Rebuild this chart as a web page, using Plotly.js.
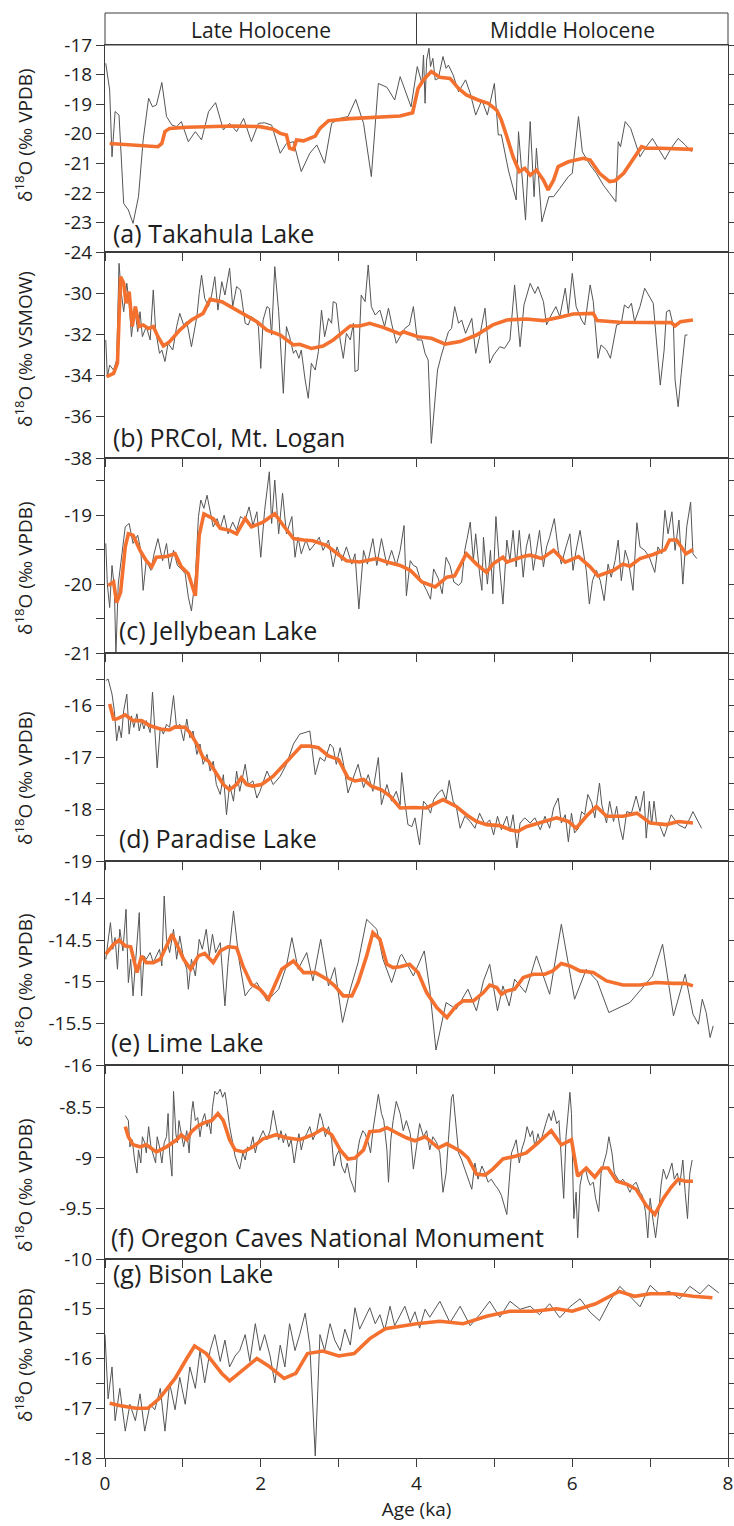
<!DOCTYPE html>
<html><head><meta charset="utf-8">
<script src="https://cdn.plot.ly/plotly-3.0.1.min.js"></script>
<style>html,body{margin:0;padding:0;background:#fff}</style>
</head><body>
<div id="chart" style="width:734px;height:1526px"></div>
<script>
// ---------------- DATA (age in ka, d18O in permil) ----------------
const panelNames = ["(a) Takahula Lake","(b) PRCol, Mt. Logan","(c) Jellybean Lake","(d) Paradise Lake","(e) Lime Lake","(f) Oregon Caves National Monument","(g) Bison Lake"];
const yTitles = ["δ<sup>18</sup>O (‰ VPDB)","δ<sup>18</sup>O (‰ VSMOW)","δ<sup>18</sup>O (‰ VPDB)","δ<sup>18</sup>O (‰ VPDB)","δ<sup>18</sup>O (‰ VPDB)","δ<sup>18</sup>O (‰ VPDB)","δ<sup>18</sup>O (‰ VPDB)"];
const xTitle = "Age (ka)";
const periodLabels = ["Late Holocene","Middle Holocene"];
const periodBounds = [0,4,8];
const xTickVals = [0,1,2,3,4,5,6,7,8];
const xTickText = ["0","","2","","4","","6","","8"];

// (a) Takahula Lake
const aAge = [0.01,0.06,0.09,0.13,0.18,0.24,0.30,0.36,0.43,0.49,0.56,0.61,0.66,0.73,0.79,0.86,0.92,0.98,1.07,1.16,1.24,1.33,1.42,1.52,1.60,1.69,1.78,1.88,1.97,2.05,2.14,2.25,2.33,2.42,2.52,2.63,2.72,2.82,2.91,3.02,3.12,3.22,3.32,3.42,3.51,3.62,3.72,3.79,
3.93,4.01,4.07,4.09,4.11,4.13,4.16,4.18,4.21,4.24,4.28,4.34,4.38,4.41,4.47,4.54,4.63,4.69,4.76,4.84,4.91,5.00,5.05,5.09,5.18,5.28,5.31,5.40,5.46,5.51,5.54,5.61,5.70,5.76,5.84,5.95,6.00,6.08,6.13,6.23,6.31,6.40,6.48,6.56,6.59,6.62,6.68,6.75,6.87,6.95,7.03,7.10,7.19,7.27,7.36,7.45,7.53];
const aVal = [-17.62,-18.52,-20.78,-19.25,-19.37,-22.36,-22.58,-23.03,-22.13,-20.21,-18.80,-19.09,-19.03,-18.27,-19.42,-19.71,-19.76,-19.59,-20.27,-19.93,-20.21,-19.25,-18.95,-19.87,-19.65,-19.93,-19.48,-20.27,-19.65,-19.63,-19.71,-20.66,-20.33,-20.27,-21.28,-20.66,-20.38,-21.00,-19.65,-19.48,-19.42,-18.84,-19.65,-21.45,-18.30,-18.43,-18.86,-18.07,
-19.09,-17.73,-18.30,-17.34,-18.97,-17.51,-17.11,-17.73,-17.45,-18.18,-18.13,-17.39,-17.79,-17.68,-18.01,-18.58,-18.18,-18.63,-19.37,-18.86,-19.37,-18.30,-20.04,-20.04,-21.23,-22.24,-19.93,-22.92,-19.59,-22.13,-20.49,-22.98,-22.13,-22.13,-21.85,-21.45,-21.34,-19.42,-20.61,-21.06,-21.34,-21.74,-22.02,-22.30,-20.27,-20.44,-19.59,-19.82,-20.78,-20.44,-20.16,-20.49,-20.87,-20.49,-20.16,-20.38,-20.61];
const aSmAge = [0.06,0.28,0.49,0.68,0.73,0.77,0.83,1.05,1.65,1.99,2.16,2.25,2.33,2.37,2.42,2.46,2.55,2.70,2.76,2.87,3.15,3.79,3.95,4.02,4.09,4.19,4.30,4.43,4.54,4.64,4.79,4.92,5.03,5.09,5.16,5.24,5.32,5.39,5.46,5.54,5.63,5.69,5.76,5.82,5.95,6.14,6.23,6.35,6.48,6.55,6.66,6.78,6.89,6.95,7.13,7.55];
const aSm = [-20.33,-20.36,-20.40,-20.44,-20.33,-19.93,-19.82,-19.78,-19.74,-19.76,-19.85,-19.99,-20.04,-20.49,-20.53,-20.21,-20.24,-20.08,-19.82,-19.56,-19.49,-19.40,-19.29,-18.47,-18.18,-17.90,-18.09,-18.13,-18.47,-18.69,-18.86,-18.97,-19.20,-19.54,-20.10,-20.78,-21.28,-21.17,-21.40,-21.23,-21.57,-21.90,-21.57,-21.11,-20.95,-20.83,-20.89,-21.34,-21.62,-21.59,-21.34,-20.89,-20.44,-20.49,-20.49,-20.53];

// (b) PRCol, Mt. Logan
const bAge = [0.01,0.03,0.06,0.11,0.15,0.18,0.21,0.24,0.28,0.31,0.34,0.38,0.42,0.45,0.48,0.53,0.58,0.62,0.65,0.70,0.73,0.77,0.81,0.87,0.92,0.96,1.01,1.05,1.11,1.18,1.21,1.24,1.28,1.33,1.37,1.41,1.45,1.50,1.54,1.60,1.64,1.69,1.74,1.80,1.84,1.88,1.93,1.97,2.00,2.03,2.08,2.11,2.14,2.18,2.23,2.26,2.29,2.33,2.37,2.42,2.45,2.49,2.52,2.57,2.61,2.65,2.70,2.74,2.78,2.82,2.87,2.91,2.93,2.97,3.02,3.06,3.10,3.15,3.19,3.21,3.25,3.29,3.34,3.38,3.42,3.47,3.53,3.59,3.64,3.68,3.74,3.79,
3.85,3.91,3.96,4.01,4.07,4.11,4.15,4.19,4.27,4.32,4.41,4.45,4.49,4.54,4.58,4.63,4.71,4.76,4.81,4.88,4.94,4.99,5.07,5.13,5.20,5.26,5.33,5.38,5.46,5.52,5.56,5.63,5.67,5.73,5.79,5.84,5.91,5.95,6.00,6.05,6.12,6.16,6.23,6.27,6.33,6.37,6.44,6.49,6.57,6.63,6.67,6.72,6.76,6.80,6.87,6.93,7.00,7.04,7.08,7.13,7.18,7.21,7.25,7.30,7.32,7.36,7.40,7.45,7.48];
const bVal = [-32.27,-34.05,-33.49,-33.73,-33.24,-28.55,-30.01,-30.90,-29.52,-30.49,-32.11,-30.65,-31.87,-30.90,-32.11,-31.62,-32.27,-29.84,-31.79,-32.92,-32.76,-33.32,-32.43,-32.76,-31.62,-30.98,-31.54,-31.38,-32.60,-31.14,-30.01,-29.12,-30.25,-30.65,-30.09,-29.20,-30.82,-29.44,-30.09,-28.79,-30.65,-29.68,-29.84,-31.46,-31.54,-31.14,-31.30,-31.62,-33.65,-31.30,-30.65,-30.73,-32.03,-28.71,-30.90,-32.76,-34.86,-31.62,-32.11,-32.92,-32.76,-33.16,-32.76,-34.21,-35.10,-33.40,-33.73,-32.84,-30.82,-32.11,-31.22,-31.46,-30.41,-30.49,-32.27,-33.16,-31.95,-32.27,-31.46,-33.81,-33.73,-30.09,-30.41,-28.63,-30.65,-31.06,-30.82,-31.62,-30.73,-31.46,-32.43,-32.11,
-31.71,-31.54,-30.65,-32.27,-32.27,-32.92,-33.24,-37.29,-33.73,-33.00,-31.87,-31.71,-30.65,-31.46,-31.30,-31.95,-31.22,-32.92,-32.11,-30.73,-33.40,-33.00,-32.60,-32.68,-32.27,-29.60,-32.60,-30.57,-29.52,-30.01,-29.68,-30.41,-31.54,-31.06,-30.65,-31.14,-29.76,-30.98,-29.04,-30.65,-31.30,-31.54,-29.60,-30.41,-33.16,-32.51,-32.76,-33.16,-31.54,-31.46,-30.57,-30.73,-30.49,-31.38,-30.65,-29.76,-30.25,-30.49,-32.27,-34.46,-32.76,-30.90,-30.82,-31.62,-34.21,-35.51,-33.89,-32.03,-32.03];
const bSmAge = [0.02,0.11,0.16,0.20,0.24,0.27,0.31,0.35,0.39,0.44,0.49,0.56,0.62,0.68,0.75,0.83,0.96,1.11,1.26,1.35,1.50,1.65,1.82,1.95,2.08,2.25,2.42,2.50,2.65,2.80,2.93,3.15,3.27,3.40,3.57,3.79,3.83,4.02,4.19,4.37,4.56,4.77,4.98,5.16,5.41,5.63,5.84,6.01,6.27,6.32,6.61,6.91,7.27,7.32,7.39,7.55];
const bSm = [-34.05,-33.89,-33.40,-29.20,-29.52,-30.49,-29.93,-31.62,-30.65,-31.62,-31.54,-31.71,-31.62,-32.11,-32.56,-32.35,-31.79,-31.30,-30.98,-30.30,-30.41,-30.73,-31.06,-31.38,-31.79,-32.03,-32.51,-32.48,-32.68,-32.56,-32.27,-31.59,-31.59,-31.46,-31.66,-31.98,-31.87,-32.11,-32.19,-32.47,-32.35,-32.03,-31.54,-31.30,-31.25,-31.33,-31.17,-31.01,-30.98,-31.33,-31.41,-31.43,-31.43,-31.59,-31.38,-31.30];

// (c) Jellybean Lake
const cAge = [0.01,0.03,0.06,0.09,0.12,0.14,0.17,0.21,0.26,0.31,0.36,0.42,0.46,0.49,0.53,0.59,0.63,0.68,0.74,0.79,0.83,0.88,0.93,0.98,1.03,1.07,1.11,1.16,1.20,1.23,1.27,1.31,1.35,1.39,1.44,1.48,1.53,1.58,1.64,1.69,1.74,1.80,1.85,1.90,1.95,2.00,2.05,2.11,2.14,2.18,2.23,2.28,2.33,2.40,2.44,2.48,2.52,2.58,2.63,2.70,2.75,2.80,2.87,2.93,2.98,3.04,3.10,3.17,3.21,3.26,3.32,3.37,3.44,3.49,3.55,3.62,3.68,3.74,
3.79,3.84,3.87,3.92,3.96,4.00,4.04,4.09,4.13,4.18,4.22,4.28,4.33,4.38,4.43,4.48,4.54,4.58,4.62,4.65,4.69,4.73,4.76,4.81,4.84,4.86,4.91,4.95,4.98,5.02,5.06,5.11,5.16,5.20,5.24,5.28,5.32,5.37,5.41,5.45,5.50,5.54,5.58,5.63,5.67,5.71,5.77,5.82,5.86,5.92,5.97,6.01,6.05,6.10,6.14,6.18,6.22,6.26,6.31,6.36,6.41,6.46,6.50,6.55,6.59,6.63,6.68,6.72,6.78,6.83,6.87,6.93,6.99,7.06,7.10,7.15,7.19,7.23,7.28,7.32,7.37,7.42,7.47,7.52,7.55,7.60];
const cVal = [-19.41,-20.00,-20.34,-19.73,-20.05,-21.02,-20.00,-19.61,-19.17,-19.12,-19.41,-19.29,-19.51,-20.09,-19.66,-19.80,-19.56,-19.34,-19.66,-19.41,-19.78,-19.51,-19.73,-19.78,-19.85,-20.19,-20.39,-19.90,-19.02,-18.78,-18.90,-18.71,-18.93,-19.17,-19.05,-19.19,-19.00,-19.27,-19.10,-19.22,-19.02,-19.07,-18.88,-19.15,-18.95,-19.61,-18.93,-18.37,-19.12,-18.49,-19.27,-18.68,-19.27,-19.02,-19.61,-19.32,-19.56,-19.36,-19.51,-19.41,-19.32,-19.51,-19.36,-19.75,-19.46,-19.66,-19.46,-19.71,-19.56,-20.36,-19.51,-19.71,-19.34,-19.73,-19.34,-19.73,-19.51,-19.73,
-19.51,-19.15,-20.17,-19.66,-19.73,-19.75,-19.90,-20.00,-20.09,-20.22,-19.78,-19.92,-20.14,-19.61,-19.73,-19.97,-20.02,-19.97,-19.51,-19.34,-19.10,-19.66,-19.27,-19.85,-20.09,-19.32,-20.00,-19.51,-20.14,-19.02,-19.66,-20.29,-19.36,-19.66,-19.22,-19.75,-19.22,-19.90,-19.46,-19.27,-19.80,-19.51,-19.22,-19.75,-19.46,-19.32,-19.05,-19.51,-19.71,-19.46,-19.27,-19.80,-19.51,-19.22,-19.51,-19.80,-20.29,-19.95,-19.80,-19.95,-20.24,-19.71,-19.90,-19.66,-19.36,-19.95,-19.51,-19.66,-20.09,-19.11,-19.46,-19.51,-19.61,-19.83,-19.46,-19.56,-18.93,-19.27,-18.95,-19.51,-19.07,-20.00,-19.17,-18.81,-19.56,-19.63];
const cSmAge = [0.04,0.11,0.15,0.20,0.26,0.30,0.36,0.45,0.53,0.60,0.66,0.79,0.90,0.98,1.07,1.16,1.21,1.27,1.39,1.48,1.60,1.69,1.80,1.88,2.03,2.18,2.29,2.42,2.55,2.67,2.85,2.97,3.10,3.27,3.49,3.62,3.79,3.92,4.07,4.24,4.39,4.49,4.64,4.77,4.90,4.98,5.11,5.16,5.37,5.46,5.61,5.76,5.91,6.08,6.23,6.33,6.53,6.65,6.74,6.87,7.04,7.19,7.25,7.34,7.46,7.55];
const cSm = [-20.02,-19.97,-20.27,-20.12,-19.46,-19.27,-19.29,-19.51,-19.66,-19.75,-19.61,-19.60,-19.56,-19.75,-19.85,-20.17,-19.29,-18.98,-19.05,-19.19,-19.22,-19.27,-19.05,-19.17,-19.10,-18.98,-19.15,-19.34,-19.36,-19.37,-19.44,-19.54,-19.66,-19.68,-19.63,-19.68,-19.73,-19.80,-19.97,-20.04,-19.90,-19.88,-19.56,-19.71,-19.83,-19.71,-19.61,-19.68,-19.60,-19.58,-19.63,-19.51,-19.68,-19.60,-19.75,-19.88,-19.80,-19.71,-19.74,-19.63,-19.57,-19.50,-19.36,-19.36,-19.56,-19.50];

// (d) Paradise Lake
const dAge = [0.01,0.04,0.09,0.12,0.15,0.18,0.21,0.24,0.28,0.31,0.34,0.37,0.41,0.44,0.47,0.50,0.53,0.58,0.61,0.64,0.67,0.71,0.75,0.79,0.83,0.88,0.92,0.96,1.01,1.05,1.09,1.13,1.18,1.22,1.26,1.31,1.35,1.39,1.43,1.48,1.52,1.56,1.60,1.65,1.69,1.73,1.80,1.84,1.90,1.95,1.99,2.08,2.16,2.25,2.33,2.42,2.50,2.57,2.63,2.70,2.76,2.82,2.89,2.93,2.97,3.02,3.06,3.12,3.19,3.25,3.32,3.38,3.44,3.51,3.55,3.62,3.68,3.74,3.79,
3.81,3.85,3.89,3.94,3.98,4.04,4.09,4.13,4.18,4.22,4.28,4.33,4.38,4.42,4.47,4.51,4.56,4.62,4.69,4.75,4.81,4.88,4.94,4.99,5.04,5.09,5.16,5.20,5.24,5.29,5.33,5.39,5.46,5.52,5.59,5.65,5.71,5.76,5.82,5.86,5.91,5.95,5.99,6.03,6.08,6.12,6.16,6.20,6.25,6.29,6.35,6.38,6.44,6.48,6.53,6.57,6.61,6.65,6.70,6.76,6.82,6.87,6.92,6.95,6.99,7.02,7.05,7.08,7.13,7.18,7.27,7.36,7.45,7.55,7.66];
const dVal = [-15.53,-15.50,-15.79,-16.11,-16.69,-16.40,-16.63,-16.11,-15.79,-16.56,-16.21,-16.43,-16.17,-16.50,-16.30,-16.46,-16.30,-16.53,-15.75,-16.43,-17.21,-16.43,-16.56,-16.37,-16.43,-15.82,-16.46,-16.37,-16.69,-16.27,-16.63,-16.50,-16.95,-16.75,-17.14,-16.95,-17.27,-17.08,-17.53,-17.72,-17.34,-18.11,-17.53,-17.85,-17.27,-17.66,-17.14,-17.53,-17.46,-17.79,-17.66,-17.27,-17.53,-17.37,-17.14,-16.75,-16.56,-16.53,-16.50,-17.34,-17.01,-17.08,-16.75,-16.82,-17.14,-16.82,-17.11,-17.69,-17.40,-17.14,-17.59,-17.34,-17.66,-17.01,-17.92,-17.53,-17.85,-17.66,-17.92,
-17.30,-17.85,-18.30,-18.34,-18.17,-18.69,-17.85,-17.92,-18.08,-17.82,-17.69,-17.63,-17.82,-17.45,-17.85,-17.95,-18.37,-18.14,-18.24,-18.37,-18.08,-18.30,-18.21,-18.50,-18.14,-18.40,-18.14,-18.43,-18.11,-18.75,-18.27,-18.17,-18.27,-18.17,-18.40,-18.14,-18.37,-17.98,-17.79,-18.27,-18.11,-18.63,-18.08,-18.46,-18.37,-18.05,-18.11,-17.72,-17.88,-18.17,-17.50,-17.92,-18.27,-17.85,-18.24,-17.95,-18.34,-18.59,-18.05,-18.08,-17.75,-18.05,-17.66,-18.56,-17.85,-18.30,-17.85,-18.24,-18.34,-18.53,-18.11,-18.30,-18.37,-18.05,-18.37];
const dSmAge = [0.06,0.11,0.15,0.26,0.36,0.47,0.58,0.71,0.83,0.90,1.03,1.09,1.18,1.26,1.33,1.41,1.52,1.60,1.69,1.75,1.82,1.90,2.01,2.16,2.29,2.42,2.52,2.63,2.74,2.87,3.00,3.12,3.21,3.32,3.42,3.55,3.66,3.79,3.96,4.13,4.34,4.51,4.64,4.77,4.90,5.07,5.20,5.30,5.41,5.58,5.80,5.95,6.05,6.18,6.31,6.44,6.65,6.83,7.00,7.21,7.36,7.55];
const dSm = [-15.98,-16.27,-16.27,-16.19,-16.30,-16.30,-16.40,-16.46,-16.48,-16.42,-16.43,-16.53,-16.75,-17.01,-17.08,-17.27,-17.53,-17.63,-17.53,-17.40,-17.53,-17.56,-17.53,-17.37,-17.17,-16.95,-16.79,-16.79,-16.82,-16.98,-17.05,-17.40,-17.46,-17.43,-17.56,-17.63,-17.75,-17.98,-17.97,-17.98,-17.82,-17.95,-18.11,-18.24,-18.30,-18.32,-18.40,-18.43,-18.34,-18.27,-18.17,-18.24,-18.37,-18.14,-17.95,-18.14,-18.14,-18.08,-18.27,-18.30,-18.24,-18.27];

// (e) Lime Lake
const eAge = [0.01,0.04,0.07,0.10,0.13,0.16,0.19,0.23,0.27,0.30,0.33,0.36,0.41,0.44,0.47,0.50,0.53,0.58,0.62,0.66,0.70,0.73,0.76,0.79,0.83,0.88,0.92,0.96,1.01,1.05,1.07,1.11,1.16,1.21,1.25,1.30,1.34,1.38,1.42,1.48,1.54,1.58,1.65,1.72,1.80,1.86,1.95,2.08,2.23,2.33,2.40,2.48,2.59,2.67,2.77,2.87,2.95,3.05,3.15,3.25,3.36,3.49,3.57,3.68,3.79,
3.81,3.96,4.10,4.17,4.25,4.38,4.51,4.66,4.77,4.86,4.94,5.04,5.11,5.19,5.26,5.40,5.54,5.71,5.86,6.03,6.18,6.32,6.47,6.74,7.03,7.16,7.30,7.45,7.55,7.62,7.67,7.72,7.77,7.81];
const eVal = [-14.73,-14.53,-14.29,-14.61,-14.47,-14.85,-14.37,-14.63,-14.13,-15.01,-14.73,-15.17,-14.61,-14.17,-15.17,-14.69,-14.73,-14.65,-14.77,-14.69,-14.61,-14.81,-13.97,-14.49,-14.65,-14.37,-14.73,-14.45,-14.73,-14.85,-15.09,-14.73,-14.93,-14.49,-14.61,-14.37,-14.69,-14.43,-14.65,-14.53,-15.29,-14.77,-14.15,-14.73,-15.17,-15.09,-15.01,-15.23,-15.09,-14.81,-14.47,-14.85,-14.65,-14.99,-14.49,-15.05,-14.83,-15.49,-15.09,-14.77,-14.25,-14.37,-14.73,-15.01,-14.69,
-14.67,-14.93,-14.63,-15.09,-15.82,-15.25,-15.33,-15.09,-15.35,-14.99,-14.79,-15.35,-15.05,-15.29,-14.97,-15.13,-14.69,-15.15,-14.31,-15.21,-14.85,-14.99,-15.37,-15.25,-14.93,-14.55,-15.41,-14.91,-15.39,-15.51,-15.21,-15.37,-15.67,-15.53];
const eSmAge = [0.01,0.11,0.18,0.26,0.33,0.41,0.47,0.53,0.62,0.71,0.79,0.86,0.92,1.01,1.10,1.20,1.28,1.39,1.48,1.58,1.69,1.77,1.88,1.99,2.10,2.16,2.27,2.42,2.55,2.70,2.85,2.95,3.06,3.17,3.25,3.36,3.44,3.53,3.62,3.70,3.79,3.91,4.02,4.13,4.26,4.39,4.51,4.60,4.73,4.86,4.94,5.03,5.09,5.16,5.26,5.37,5.50,5.65,5.75,5.86,5.97,6.10,6.27,6.44,6.65,6.87,7.08,7.30,7.45,7.55];
const eSm = [-14.67,-14.55,-14.50,-14.57,-14.58,-14.89,-14.69,-14.77,-14.77,-14.73,-14.57,-14.43,-14.55,-14.73,-14.85,-14.69,-14.66,-14.77,-14.63,-14.58,-14.59,-14.81,-15.03,-15.09,-15.21,-15.09,-14.85,-14.75,-14.89,-14.89,-14.97,-15.05,-15.17,-15.17,-15.01,-14.69,-14.41,-14.49,-14.79,-14.83,-14.82,-14.79,-14.89,-15.13,-15.31,-15.43,-15.29,-15.23,-15.23,-15.13,-15.04,-15.07,-15.15,-15.11,-15.09,-14.95,-14.91,-14.91,-14.87,-14.78,-14.81,-14.87,-14.89,-14.99,-15.04,-15.04,-15.01,-15.02,-15.02,-15.05];

// (f) Oregon Caves National Monument
const fAge = [0.26,0.30,0.32,0.35,0.38,0.41,0.43,0.46,0.48,0.51,0.53,0.56,0.59,0.62,0.65,0.67,0.70,0.73,0.76,0.79,0.81,0.83,0.86,0.88,0.91,0.93,0.95,0.98,1.01,1.05,1.08,1.11,1.13,1.16,1.19,1.22,1.25,1.28,1.31,1.33,1.36,1.38,1.41,1.44,1.48,1.51,1.54,1.57,1.60,1.64,1.67,1.70,1.73,1.77,1.80,1.83,1.86,1.90,1.93,1.96,1.99,2.03,2.08,2.12,2.16,2.20,2.23,2.26,2.29,2.32,2.36,2.39,2.43,2.46,2.49,2.52,2.55,2.59,2.63,2.67,2.72,2.76,2.79,2.83,2.87,2.91,2.94,2.97,3.01,3.04,3.08,3.11,3.15,3.18,3.21,3.24,3.27,3.31,3.34,3.38,3.41,3.44,3.48,3.51,3.55,3.58,3.62,3.64,3.67,3.70,3.74,3.79,
3.83,3.87,3.92,3.96,4.00,4.04,4.09,4.13,4.17,4.21,4.26,4.30,4.34,4.38,4.41,4.45,4.47,4.51,4.54,4.58,4.62,4.66,4.71,4.75,4.79,4.84,4.88,4.92,4.96,5.01,5.05,5.09,5.13,5.16,5.19,5.22,5.25,5.28,5.32,5.35,5.39,5.42,5.46,5.49,5.52,5.56,5.59,5.63,5.66,5.70,5.73,5.76,5.80,5.83,5.86,5.89,5.92,5.94,5.97,5.99,6.02,6.05,6.07,6.10,6.13,6.17,6.20,6.23,6.27,6.30,6.34,6.37,6.41,6.44,6.47,6.51,6.54,6.58,6.61,6.65,6.70,6.74,6.78,6.82,6.87,6.90,6.94,6.97,7.00,7.04,7.07,7.11,7.14,7.17,7.21,7.24,7.28,7.31,7.35,7.38,7.42,7.45,7.48,7.51,7.54];
const fVal = [-8.58,-8.63,-8.89,-8.82,-9.02,-9.15,-8.92,-9.05,-8.79,-8.85,-8.95,-8.69,-8.89,-8.98,-9.05,-8.79,-8.89,-9.05,-8.85,-8.79,-8.56,-8.95,-9.18,-8.34,-8.76,-8.85,-8.63,-8.76,-8.89,-8.73,-8.95,-8.56,-8.44,-8.63,-8.60,-8.79,-8.63,-8.56,-8.69,-8.63,-8.76,-8.50,-8.34,-8.37,-8.32,-8.40,-8.35,-8.50,-8.69,-8.85,-8.98,-9.05,-9.11,-8.95,-9.02,-8.89,-8.92,-8.79,-8.95,-8.85,-8.79,-8.73,-8.82,-8.73,-8.53,-8.69,-8.82,-8.73,-8.85,-8.76,-8.89,-8.82,-9.05,-8.89,-8.76,-8.92,-8.82,-8.76,-8.69,-8.82,-8.73,-8.56,-8.63,-8.79,-8.69,-8.82,-9.08,-8.98,-8.92,-9.08,-9.15,-9.05,-9.21,-9.27,-9.34,-8.95,-8.82,-8.73,-8.76,-8.85,-8.95,-8.73,-8.50,-8.37,-8.56,-8.63,-8.92,-9.24,-8.82,-8.63,-8.44,-8.56,
-8.73,-8.63,-8.76,-9.11,-8.89,-8.66,-8.79,-8.73,-8.92,-8.79,-8.85,-8.95,-9.34,-9.15,-8.82,-8.40,-8.37,-8.73,-8.95,-9.02,-9.11,-9.21,-9.31,-9.05,-9.21,-9.08,-9.15,-9.24,-9.21,-9.27,-9.31,-9.37,-9.47,-9.56,-9.24,-8.95,-8.89,-8.82,-9.05,-8.92,-8.82,-8.69,-8.79,-8.73,-8.89,-8.76,-8.85,-8.73,-8.66,-8.56,-8.63,-8.53,-8.66,-8.63,-9.08,-9.40,-8.79,-8.63,-8.35,-8.56,-9.60,-9.34,-9.79,-9.27,-9.15,-9.11,-9.21,-9.27,-9.24,-9.40,-9.53,-9.15,-9.05,-8.95,-8.79,-8.95,-9.15,-9.21,-9.24,-9.21,-9.27,-9.34,-9.27,-9.24,-9.34,-9.37,-9.53,-9.79,-9.40,-9.63,-9.79,-9.53,-9.27,-9.11,-9.21,-9.15,-9.05,-9.21,-9.15,-9.27,-9.02,-9.34,-9.60,-9.15,-9.02];
const fSmAge = [0.26,0.30,0.36,0.45,0.53,0.66,0.79,0.92,0.98,1.05,1.11,1.20,1.28,1.37,1.45,1.52,1.60,1.67,1.78,1.90,2.03,2.20,2.33,2.50,2.67,2.80,2.91,3.02,3.12,3.21,3.32,3.40,3.53,3.62,3.79,3.87,3.98,4.11,4.28,4.39,4.56,4.66,4.77,4.88,4.98,5.11,5.28,5.41,5.56,5.73,5.86,5.99,6.07,6.18,6.29,6.38,6.46,6.57,6.70,6.82,6.95,7.06,7.17,7.27,7.36,7.45,7.55];
const fSm = [-8.69,-8.79,-8.87,-8.89,-8.87,-8.94,-8.89,-8.82,-8.77,-8.82,-8.74,-8.68,-8.65,-8.63,-8.56,-8.63,-8.82,-8.92,-8.94,-8.89,-8.81,-8.77,-8.80,-8.82,-8.77,-8.71,-8.77,-8.92,-9.01,-9.00,-8.92,-8.74,-8.73,-8.70,-8.77,-8.80,-8.83,-8.79,-8.90,-8.86,-8.93,-9.00,-9.16,-9.17,-9.11,-9.01,-8.98,-8.95,-8.85,-8.73,-8.87,-8.82,-9.18,-9.10,-9.19,-9.10,-9.10,-9.23,-9.26,-9.31,-9.47,-9.56,-9.40,-9.29,-9.21,-9.23,-9.23];

// (g) Bison Lake
const gAge = [0.00,0.04,0.09,0.13,0.19,0.26,0.32,0.39,0.45,0.51,0.58,0.64,0.71,0.77,0.83,0.90,0.96,1.03,1.09,1.16,1.22,1.28,1.35,1.41,1.48,1.54,1.60,1.67,1.73,1.80,1.86,1.93,1.99,2.05,2.12,2.18,2.25,2.31,2.37,2.44,2.50,2.57,2.63,2.70,2.76,2.82,2.89,2.95,3.02,3.08,3.15,3.21,3.27,3.34,3.40,3.47,3.53,3.59,3.66,3.72,3.79,3.85,3.92,3.98,4.04,4.11,4.17,4.30,4.43,4.56,4.69,4.81,4.94,5.07,5.20,5.33,5.46,5.58,5.71,5.84,5.97,6.10,6.23,6.35,6.48,6.61,6.74,6.87,7.00,7.12,7.25,7.38,7.51,7.64,7.75,7.88];
const gVal = [-15.52,-16.81,-16.17,-17.25,-16.60,-17.46,-16.92,-17.25,-16.71,-17.46,-16.92,-17.03,-16.60,-17.46,-16.49,-17.03,-16.38,-16.92,-16.17,-16.60,-15.84,-16.49,-15.84,-15.52,-16.06,-15.63,-16.17,-15.95,-15.84,-15.52,-16.06,-15.30,-15.84,-15.52,-15.95,-16.49,-15.73,-16.17,-15.30,-15.84,-15.52,-15.09,-15.73,-17.96,-15.52,-15.84,-15.30,-15.63,-15.84,-15.41,-15.73,-14.98,-15.41,-15.19,-14.98,-15.30,-15.12,-15.44,-14.95,-15.34,-15.12,-14.95,-15.28,-15.06,-15.39,-15.01,-15.17,-14.85,-15.28,-14.95,-15.34,-15.12,-14.85,-15.17,-14.85,-15.01,-14.95,-15.12,-14.90,-15.18,-14.96,-14.80,-15.07,-15.24,-14.85,-14.55,-14.75,-14.96,-14.53,-14.70,-14.65,-14.80,-14.55,-14.70,-14.52,-14.68];
const gSmAge = [0.06,0.20,0.40,0.55,0.70,0.90,1.05,1.15,1.30,1.50,1.60,1.80,1.95,2.10,2.30,2.45,2.60,2.80,3.00,3.20,3.40,3.60,3.80,4.00,4.30,4.60,4.90,5.20,5.50,5.80,6.00,6.30,6.60,6.80,7.00,7.30,7.55,7.80];
const gSm = [-16.90,-16.95,-17.00,-17.00,-16.80,-16.40,-16.00,-15.75,-15.90,-16.30,-16.45,-16.20,-16.00,-16.15,-16.40,-16.30,-15.90,-15.85,-15.95,-15.90,-15.60,-15.40,-15.35,-15.30,-15.25,-15.30,-15.15,-15.05,-15.05,-15.00,-15.05,-14.90,-14.65,-14.75,-14.70,-14.70,-14.75,-14.78];

// y-axis ranges and ticks per panel
const yRanges = [[-24,-17],[-38,-28],[-21,-18.17],[-19,-15],[-16,-13.55],[-10,-8.08],[-18,-14]];
const yTickVals = [
  [-17,-18,-19,-20,-21,-22,-23,-24],
  [-28,-30,-32,-34,-36,-38],
  [-18.5,-19,-19.5,-20,-20.5,-21],
  [-15,-15.5,-16,-16.5,-17,-17.5,-18,-18.5,-19],
  [-14,-14.5,-15,-15.5,-16],
  [-8.5,-9,-9.5,-10],
  [-14,-14.5,-15,-15.5,-16,-16.5,-17,-17.5,-18]
];
const yTickText = [
  ["-17","-18","-19","-20","-21","-22","-23","-24"],
  [" ","-30","-32","-34","-36","-38"],
  [" ","-19"," ","-20"," ","-21"],
  [" "," ","-16"," ","-17"," ","-18"," ","-19"],
  ["-14","-14.5","-15","-15.5","-16"],
  ["-8.5","-9","-9.5","-10"],
  [" "," ","-15"," ","-16"," ","-17"," ","-18"]
];

const rawAges = [aAge,bAge,cAge,dAge,eAge,fAge,gAge];
const rawVals = [aVal,bVal,cVal,dVal,eVal,fVal,gVal];
const smAges = [aSmAge,bSmAge,cSmAge,dSmAge,eSmAge,fSmAge,gSmAge];
const smVals = [aSm,bSm,cSm,dSm,eSm,fSm,gSm];

// ---------------- LAYOUT ----------------
const PT = 13, PB = 1458, PL = 105, PR = 728;
const fy = px => (PB - px) / (PB - PT);
const fx = px => (px - PL) / (PR - PL);
const panelPx = [[45,252],[252,458],[458,653],[653,861],[861,1065],[1065,1259],[1259,1458]];
const titleCenterPx = [135,349,568,778,980,1185,1355];
const labelPos = [[111,233],[111,437],[117,630],[117,838],[109,1042],[109,1237],[111,1273]];

const axisColor = '#3c3c3c';
const txt = '#1e1e1e';
const FONT = 'Open Sans, Liberation Sans, sans-serif';

const traces = [];
const layout = {
  width: 734, height: 1526,
  margin: {l: PL, r: 734 - PR, t: PT, b: 1526 - PB},
  paper_bgcolor: '#ffffff', plot_bgcolor: 'rgba(0,0,0,0)',
  showlegend: false,
  font: {family: FONT, color: txt, size: 19},
  shapes: [], annotations: []
};

for (let i = 0; i < 7; i++) {
  const n = i === 0 ? '' : String(i + 1);
  traces.push({x: rawAges[i], y: rawVals[i], xaxis: 'x' + n, yaxis: 'y' + n, type: 'scatter', mode: 'lines',
    line: {color: '#555555', width: 1}, hoverinfo: 'skip'});
  traces.push({x: smAges[i], y: smVals[i], xaxis: 'x' + n, yaxis: 'y' + n, type: 'scatter', mode: 'lines',
    line: {color: '#F4702F', width: 3.6}, hoverinfo: 'skip'});
  const bottom = i === 6;
  layout['xaxis' + n] = {
    domain: [0, 1], range: [0, 8], anchor: 'y' + n,
    tickmode: 'array', tickvals: xTickVals, ticktext: xTickText,
    ticks: 'outside', ticklen: 8, tickwidth: 1, tickcolor: axisColor,
    showline: true, linecolor: axisColor, linewidth: 1, mirror: true,
    showgrid: false, zeroline: false, showticklabels: bottom,
    tickfont: {size: 19, family: FONT, color: txt}
  };
  if (bottom) {
    layout['xaxis' + n].title = {text: xTitle, font: {size: 19, family: FONT, color: txt}, standoff: 0};
  }
  layout['yaxis' + n] = {
    domain: [fy(panelPx[i][1]), fy(panelPx[i][0])], range: yRanges[i], anchor: 'x' + n,
    tickmode: 'array', tickvals: yTickVals[i], ticktext: yTickText[i],
    ticks: 'outside', ticklen: 8, tickwidth: 1, tickcolor: axisColor,
    showline: true, linecolor: axisColor, linewidth: 1, mirror: 'ticks',
    showgrid: false, zeroline: false,
    tickfont: {size: 19, family: FONT, color: txt}
  };
  layout.annotations.push({xref: 'paper', yref: 'paper', x: fx(24), y: fy(titleCenterPx[i]),
    text: yTitles[i], textangle: -90, showarrow: false, xanchor: 'center', yanchor: 'middle',
    font: {size: 19, family: FONT, color: txt}});
  layout.annotations.push({xref: 'paper', yref: 'paper', x: fx(labelPos[i][0]), y: fy(labelPos[i][1]),
    text: panelNames[i], showarrow: false, xanchor: 'left', yanchor: 'middle',
    font: {size: 25, family: FONT, color: txt}});
}

// header band with period names
layout.shapes.push({type: 'rect', xref: 'paper', yref: 'paper', x0: 0, x1: 1, y0: fy(45), y1: fy(PT),
  line: {color: axisColor, width: 1}, fillcolor: 'rgba(0,0,0,0)'});
layout.shapes.push({type: 'line', xref: 'x', yref: 'paper', x0: periodBounds[1], x1: periodBounds[1], y0: fy(45), y1: fy(PT),
  line: {color: axisColor, width: 1}});
for (let k = 0; k < 2; k++) {
  layout.annotations.push({xref: 'x', yref: 'paper', x: (periodBounds[k] + periodBounds[k + 1]) / 2, y: fy(30),
    text: periodLabels[k], showarrow: false, xanchor: 'center', yanchor: 'middle',
    font: {size: 21, family: FONT, color: txt}});
}

Plotly.newPlot('chart', traces, layout, {displayModeBar: false, staticPlot: true});
</script>
</body></html>
